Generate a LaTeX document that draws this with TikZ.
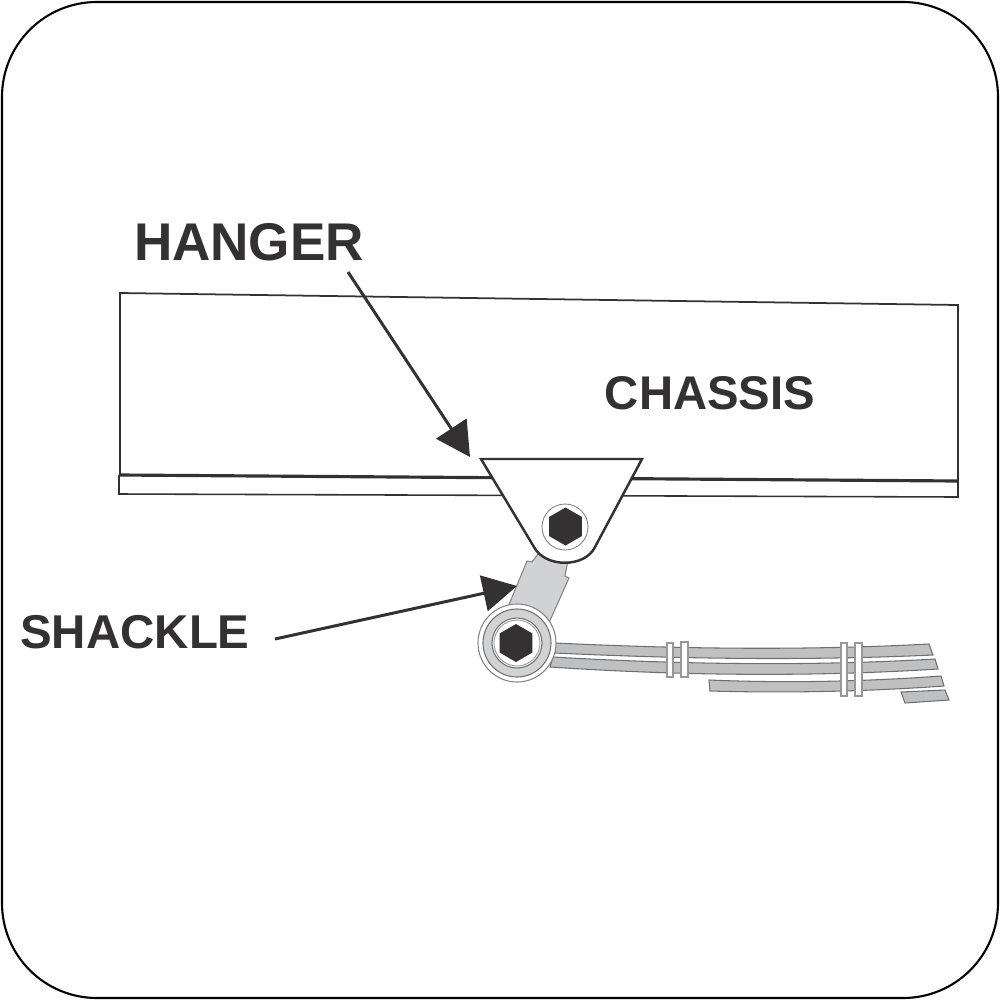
\documentclass[tikz,border=0pt]{standalone}
\usepackage{fontspec}
\setmainfont{Liberation Sans}
\usetikzlibrary{arrows.meta,shapes.geometric}
\definecolor{inkdark}{HTML}{333132}
\definecolor{platefill}{HTML}{D1D2D3}
\definecolor{leaffill}{HTML}{BFC0C1}
\tikzset{
  leaf/.style={fill=leaffill, draw=inkdark!70, line width=.3pt},
  clamp/.style={fill=white, draw=inkdark!50, line width=.3pt},
  bolthead/.style={regular polygon, regular polygon sides=6, shape border rotate=30, fill=inkdark, inner sep=0pt, minimum size=3.8mm},
  callout/.style={draw=inkdark, line width=.85pt, -{Triangle[length=3.4mm,width=3.6mm]}},
  partname/.style={text=inkdark, font=\bfseries, inner sep=0pt}
}
\begin{document}
\begin{tikzpicture}[x=.1mm,y=-.1mm]
  \useasboundingbox (0,0) rectangle (1000,1000);
  \draw[line width=.6pt, rounded corners=27pt] (2,2) rectangle (998,998);

  \draw[inkdark, line width=.5pt] (120,475) -- (120,293) -- (958,305) -- (958,481);
  \draw[inkdark, line width=.9pt] (119,475) -- (958,481);
  \draw[inkdark, line width=.45pt] (119,475) -- (119,494) -- (958,497) -- (958,481);

  \draw[leaf] (555,643) .. controls (640,647) and (780,652) .. (929,644) -- (933,655) .. controls (780,662) and (640,657) .. (555,653) -- cycle;
  \draw[leaf] (553,657) .. controls (640,662) and (780,668) .. (935,659) -- (938,669) .. controls (780,679) and (640,673) .. (550,667) -- cycle;
  \draw[leaf] (709,680) .. controls (780,683) and (860,682) .. (941,676) -- (944,686) .. controls (860,692) and (780,693) .. (710,691) -- cycle;
  \draw[leaf] (901,692) -- (945,690) -- (949,700) -- (905,703) -- cycle;

  \draw[clamp] (667,643) rectangle (673,677);
  \draw[clamp] (681,642) rectangle (688,677);
  \draw[clamp] (841,643) rectangle (847,696);
  \draw[clamp] (855,643) rectangle (862,696);

  \draw[fill=platefill, draw=inkdark!60, line width=.3pt] (538,554) -- (532,562) -- (527,561) -- (508,607) -- (548,625) -- (569,578) -- (565,576) -- (568,560) -- cycle;

  \draw[fill=white, draw=inkdark!60, line width=.3pt] (517,643) circle (39);
  \draw[fill=platefill, draw=inkdark!70, line width=.3pt] (517,643) circle (34);
  \draw[fill=white, draw=inkdark!70, line width=.3pt] (517,643) circle (25);
  \draw[draw=inkdark!50, line width=.25pt] (517,643) circle (23);
  \node[bolthead] (eyebolt) at (516,643) {};

  \draw[fill=white, draw=inkdark, line width=.7pt] (481,459) -- (642,459) -- (595,547) .. controls (585,568) and (545,568) .. (534,547) -- cycle;
  \draw[draw=inkdark!60, line width=.25pt] (565,527) circle (23);
  \node[bolthead] (hangerbolt) at (565.500,526.500) {};

  \node[partname, scale=1.51] (hanger) at (249,242) {HANGER};
  \node[partname, scale=1.345] (chassis) at (710,393) {CHASSIS};
  \node[partname, scale=1.35] (shackle) at (135,632) {SHACKLE};

  \coordinate (hangertail) at (348,272);
  \coordinate (hangertip) at (470,457);
  \coordinate (shackletail) at (275,639);
  \coordinate (shackletip) at (517,586);
  \draw[callout] (hangertail) -- (hangertip);
  \draw[callout] (shackletail) -- (shackletip);
\end{tikzpicture}
\end{document}
